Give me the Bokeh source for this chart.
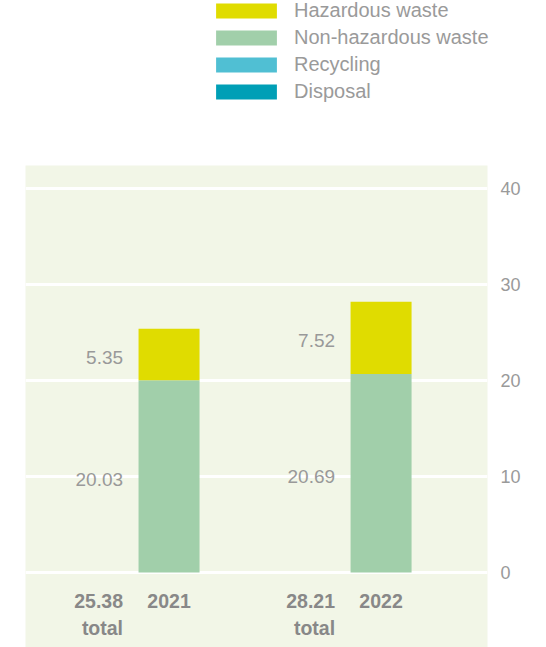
from bokeh.plotting import figure
from bokeh.models import (ColumnDataSource, Range1d, LinearAxis, FixedTicker,
                          Legend, LegendItem)
from bokeh.layouts import column
from bokeh.embed import file_html
from bokeh.resources import INLINE
from bokeh.core.properties import value

years = ["2021", "2022"]
non_hazardous = [20.03, 20.69]
hazardous = [5.35, 7.52]
totals = [25.38, 28.21]
y_ticks = [0, 10, 20, 30, 40]
legend_labels = ["Hazardous waste", "Non-hazardous waste", "Recycling", "Disposal"]

C_HAZ = "#e0dc00"
C_NON = "#a1cfaa"
C_REC = "#50bfd3"
C_DIS = "#009fb6"
FONT = "Liberation Sans"

xs = list(range(len(years)))
src = ColumnDataSource(dict(
    x=xs, year=years,
    non=non_hazardous, haz=hazardous,
    haz_bottom=non_hazardous,
    haz_top=[a + b for a, b in zip(non_hazardous, hazardous)],
    non_mid=[a / 2 for a in non_hazardous],
    haz_mid=[a + b / 2 for a, b in zip(non_hazardous, hazardous)],
    non_lbl=[f"{v:.2f}" for v in non_hazardous],
    haz_lbl=[f"{v:.2f}" for v in hazardous],
    tot_lbl=[f"{v:.2f}" for v in totals],
    total_word=["total"] * len(years),
))

# ---- legend strip -------------------------------------------------------
lg = figure(width=546, height=165, output_backend="svg", toolbar_location=None,
            x_range=Range1d(0, 1), y_range=Range1d(0, 1),
            min_border=0, x_axis_location=None, y_axis_location=None)
lg.outline_line_color = None
lg.grid.visible = False
lg.background_fill_color = "white"

unaligned = True
try:
    lg.frame_align = False
except Exception:
    unaligned = False

items = []
for lab, col in zip(legend_labels, [C_HAZ, C_NON, C_REC, C_DIS]):
    dummy = ColumnDataSource(dict(x=[-100], top=[0]))
    r = lg.vbar(x="x", top="top", width=0.1, source=dummy, fill_color=col, line_color=None)
    items.append(LegendItem(label=lab, renderers=[r]))
legend = Legend(items=items, location=(208 if unaligned else 183, 62))
legend.glyph_width = 76
legend.glyph_height = 19
legend.label_height = 20
legend.spacing = 4
legend.label_standoff = 10
legend.padding = 0
legend.margin = 0
legend.border_line_color = None
legend.background_fill_alpha = 0
legend.label_text_font = FONT
legend.label_text_font_size = "20px" if unaligned else "19.5px"
legend.label_text_color = "#9a9a9a"
lg.add_layout(legend, "center")

# ---- chart ----------------------------------------------------------------
p = figure(width=546, height=482, output_backend="svg", toolbar_location=None,
           x_range=Range1d(-0.677, 1.502), y_range=Range1d(-7.8125, 42.396),
           min_border_left=25, min_border_right=59, min_border_top=0,
           min_border_bottom=0, x_axis_location=None, y_axis_location=None)
p.background_fill_color = "#f2f6e7"
p.border_fill_color = "white"
p.outline_line_color = None

yaxis = LinearAxis(ticker=FixedTicker(ticks=y_ticks))
yaxis.axis_line_color = None
yaxis.major_tick_line_color = None
yaxis.minor_tick_line_color = None
yaxis.major_tick_out = 0
yaxis.major_label_standoff = 13
yaxis.major_label_text_font = FONT
yaxis.major_label_text_font_size = "18px"
yaxis.major_label_text_color = "#9a9a9a"
p.add_layout(yaxis, "right")

p.xgrid.visible = False
p.ygrid.ticker = FixedTicker(ticks=y_ticks)
p.ygrid.grid_line_color = "white"
p.ygrid.grid_line_width = 3

W = 0.2877
p.vbar(x="x", top="non", bottom=0, width=W, source=src,
       fill_color=C_NON, line_color=None)
p.vbar(x="x", top="haz_top", bottom="haz_bottom", width=W, source=src,
       fill_color=C_HAZ, line_color=None)

for col, ycol in (("non_lbl", "non_mid"), ("haz_lbl", "haz_mid")):
    p.text(x="x", y=ycol, text=col, source=src, x_offset=-46, y_offset=3,
           text_align="right", text_baseline="middle",
           text_font=value(FONT), text_font_size="19px", text_color="#999999")

bold = dict(text_baseline="middle", text_font=value(FONT), text_font_size="19.5px",
            text_font_style="bold", text_color="#888888")
p.text(x="x", y=-2.92, text="year", source=src, text_align="center", **bold)
p.text(x="x", y=-2.92, text="tot_lbl", source=src, x_offset=-46, text_align="right", **bold)
p.text(x="x", y=-5.73, text="total_word", source=src, x_offset=-46, text_align="right", **bold)

layout = column(lg, p, spacing=0)
open("out.html", "w").write(file_html(layout, INLINE))
